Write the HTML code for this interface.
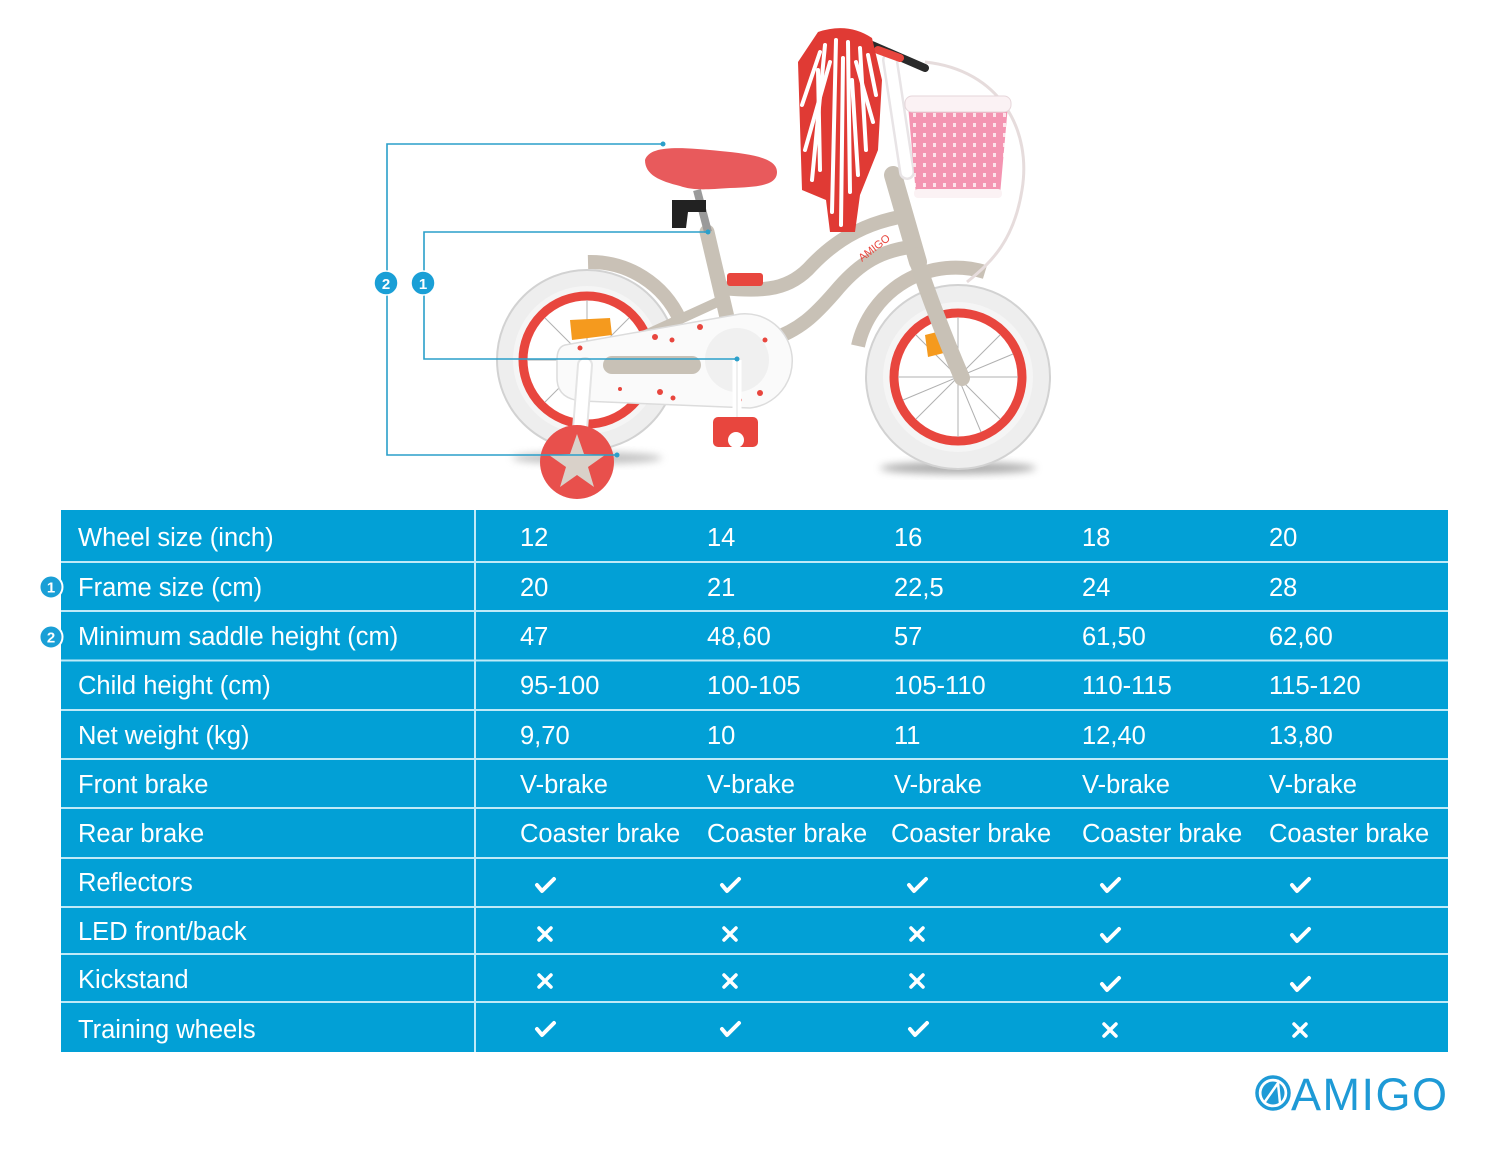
<!DOCTYPE html>
<html><head><meta charset="utf-8">
<style>
html,body{margin:0;padding:0;background:#fff;}
body{width:1500px;height:1150px;overflow:hidden;position:relative;}
svg{position:absolute;left:0;top:0;}
</style></head>
<body>
<svg width="1500" height="1150" viewBox="0 0 1500 1150" xmlns="http://www.w3.org/2000/svg">
<defs>
<filter id="bl" x="-50%" y="-50%" width="200%" height="200%"><feGaussianBlur stdDeviation="4"/></filter>
<pattern id="weave" width="10" height="10" patternUnits="userSpaceOnUse">
<rect width="10" height="10" fill="#f495b2"/>
<rect x="3" y="3" width="3" height="4" fill="#fde3ea"/>
</pattern>
</defs>

<!-- shadows -->
<ellipse cx="587" cy="458" rx="75" ry="6" fill="#9a9a9a" opacity="0.6" filter="url(#bl)"/>
<ellipse cx="958" cy="468" rx="78" ry="6" fill="#8a8a8a" opacity="0.7" filter="url(#bl)"/>

<!-- rear wheel -->
<circle cx="587" cy="360" r="90" fill="#eeeeee" stroke="#d2d2d2" stroke-width="2"/>
<circle cx="587" cy="360" r="74" fill="#f5f5f5"/>
<circle cx="587" cy="360" r="64" fill="#fff" stroke="#e8463e" stroke-width="9"/>
<g stroke="#b0b0b0" stroke-width="1">
<line x1="587" y1="300" x2="587" y2="420"/><line x1="527" y1="360" x2="647" y2="360"/>
<line x1="545" y1="318" x2="629" y2="402"/><line x1="629" y1="318" x2="545" y2="402"/>
</g>
<path d="M570,320 L610,318 L612,335 L572,340 Z" fill="#f59a1e"/>
<!-- rear fender -->
<path d="M588,262 A98,98 0 0 1 680,320" fill="none" stroke="#c9c1b6" stroke-width="14"/>

<!-- front wheel -->
<circle cx="958" cy="377" r="92" fill="#eeeeee" stroke="#d2d2d2" stroke-width="2"/>
<circle cx="958" cy="377" r="75" fill="#f5f5f5"/>
<circle cx="958" cy="377" r="64" fill="#fff" stroke="#e8463e" stroke-width="9"/>
<g stroke="#b0b0b0" stroke-width="1">
<line x1="958" y1="317" x2="958" y2="437"/><line x1="898" y1="377" x2="1018" y2="377"/>
<line x1="916" y1="335" x2="1000" y2="419"/><line x1="1000" y1="335" x2="916" y2="419"/>
<line x1="935" y1="322" x2="981" y2="432"/><line x1="903" y1="400" x2="1013" y2="354"/>
</g>
<path d="M925,335 L945,330 L948,352 L928,357 Z" fill="#f59a1e"/>
<!-- front fender -->
<path d="M858,346 A100,100 0 0 1 985,272" fill="none" stroke="#c9c1b6" stroke-width="14"/>

<!-- frame -->
<g fill="none" stroke="#c8c1b6" stroke-linecap="round">
<path d="M722,300 L595,358" stroke-width="10"/>
<path d="M707,232 L737,360" stroke-width="15"/>
<path d="M722,288 C765,292 790,290 812,265 C840,236 870,222 905,216" stroke-width="14"/>
<path d="M770,340 C800,330 815,315 835,292 C855,268 875,252 910,247" stroke-width="14"/>
<path d="M893,175 L918,262" stroke-width="18"/>
<path d="M915,255 Q935,315 962,378" stroke-width="16"/>
</g>
<rect x="727" y="273" width="36" height="13" rx="3" fill="#e8463e"/>
<text x="862" y="262" font-family="Liberation Sans, sans-serif" font-size="11" fill="#e8463e" transform="rotate(-38 862 262)">AMIGO</text>

<!-- stem & handlebar -->
<path d="M890,60 L907,172" stroke="#e8e4e6" stroke-width="16" stroke-linecap="round"/>
<path d="M890,60 L907,172" stroke="#ffffff" stroke-width="11" stroke-linecap="round"/>
<path d="M872,45 L925,68" stroke="#2a2a2a" stroke-width="8" stroke-linecap="round"/>
<path d="M878,50 L900,58" stroke="#e8463e" stroke-width="8" stroke-linecap="round"/>
<path d="M925,62 C1000,70 1032,130 1022,190 C1014,240 992,262 967,282" fill="none" stroke="#e6dcdc" stroke-width="3"/>

<!-- tassels -->
<path d="M818,32 Q848,22 872,38 L882,80 L878,150 L860,195 L855,232 L830,232 L826,200 L802,190 L798,62 Z" fill="#e03a34"/>
<g stroke="#ffffff" stroke-width="4" fill="none" stroke-linecap="round">
<path d="M825,45 L812,180"/><path d="M836,40 L832,212"/><path d="M848,42 L850,192"/><path d="M860,48 L866,150"/>
<path d="M830,62 L805,150"/><path d="M843,58 L841,225"/><path d="M856,62 L873,122"/><path d="M820,52 L802,105"/>
<path d="M868,55 L876,95"/><path d="M818,70 L820,170"/><path d="M852,80 L858,175"/>
</g>

<!-- basket -->
<path d="M908,105 L1008,105 L1000,195 L916,195 Z" fill="url(#weave)"/>
<rect x="905" y="96" width="106" height="16" rx="7" fill="#fbf2f4" stroke="#e6d6da" stroke-width="1"/>
<rect x="914" y="189" width="88" height="9" rx="4" fill="#fbf2f4"/>

<!-- saddle -->
<path d="M697,190 L708,232" stroke="#9a9a9a" stroke-width="8"/>
<path d="M672,200 L706,200 L706,212 L688,212 L686,228 L672,228 Z" fill="#222"/>
<path d="M645,160 C650,145 680,147 720,151 C752,154 777,158 777,172 C777,185 760,187 730,188 C702,190 692,190 680,186 C660,181 645,175 645,160 Z" fill="#e85a5c"/>

<!-- chain guard -->
<path d="M565,345 L740,314 A47,47 0 0 1 750,408 L582,401 Q557,399 557,378 L557,360 Q557,347 565,345 Z" fill="#fafafa" stroke="#dcdcdc" stroke-width="1.5"/>
<rect x="603" y="356" width="98" height="18" rx="9" fill="#c8c1b6"/>
<circle cx="737" cy="360" r="32" fill="#f0f0f0"/>
<g fill="#e8463e">
<circle cx="655" cy="337" r="3"/><circle cx="672" cy="340" r="2.5"/><circle cx="700" cy="327" r="3"/><circle cx="765" cy="340" r="2.5"/>
<circle cx="660" cy="392" r="3"/><circle cx="673" cy="398" r="2.5"/><circle cx="760" cy="393" r="3"/><circle cx="620" cy="389" r="2"/>
<circle cx="580" cy="348" r="2.5"/><circle cx="740" cy="400" r="2"/>
</g>
<!-- crank & pedal -->
<path d="M737,360 L737,422" stroke="#fff" stroke-width="9"/>
<path d="M737,360 L737,422" stroke="#e0e0e0" stroke-width="1" fill="none"/>
<rect x="713" y="417" width="45" height="30" rx="5" fill="#e8463e"/>
<circle cx="736" cy="440" r="8" fill="#fff"/>
<!-- training wheel -->
<path d="M585,365 L578,455" stroke="#e4e4e4" stroke-width="16" stroke-linecap="round"/>
<path d="M585,365 L578,455" stroke="#ffffff" stroke-width="12" stroke-linecap="round"/>
<circle cx="577" cy="462" r="37" fill="#e8504c"/>
<polygon points="577,434 584,454 605,455 588,467 594,487 577,475 560,487 566,467 549,455 570,454" fill="#d9d1c9"/>

<!-- dimension lines -->
<g fill="none" stroke="#2a9fca" stroke-width="1.6">
<path d="M663,144 H387 V455 H617"/>
<path d="M708,232 H424 V359 H737"/>
</g>
<g fill="#2a9fca">
<circle cx="663" cy="144" r="2.5"/><circle cx="708" cy="232" r="2.5"/><circle cx="737" cy="359" r="2.5"/><circle cx="617" cy="455" r="2.5"/>
</g>
<circle cx="386" cy="283" r="12" fill="#1a9fd6" stroke="#fff" stroke-width="1.5"/>
<circle cx="423" cy="283" r="12" fill="#1a9fd6" stroke="#fff" stroke-width="1.5"/>
<g font-family="Liberation Sans, sans-serif" font-weight="bold" font-size="15" fill="#fff" text-anchor="middle">
<text x="386" y="289">2</text><text x="423" y="289">1</text>
</g>

<!-- table -->
<rect x="61" y="510" width="1387" height="542" fill="#02a0d6"/>
<g stroke="#bfeaf8" stroke-width="2">
<line x1="61" y1="562" x2="1448" y2="562"/>
<line x1="61" y1="611" x2="1448" y2="611"/>
<line x1="61" y1="660.5" x2="1448" y2="660.5"/>
<line x1="61" y1="710" x2="1448" y2="710"/>
<line x1="61" y1="759" x2="1448" y2="759"/>
<line x1="61" y1="808" x2="1448" y2="808"/>
<line x1="61" y1="858" x2="1448" y2="858"/>
<line x1="61" y1="907" x2="1448" y2="907"/>
<line x1="61" y1="954" x2="1448" y2="954"/>
<line x1="61" y1="1002" x2="1448" y2="1002"/>
<line x1="475" y1="510" x2="475" y2="1052"/>
</g>

<!-- left markers -->
<circle cx="51" cy="587" r="11.5" fill="#1a9fd6" stroke="#fff" stroke-width="2"/>
<circle cx="51" cy="637" r="11.5" fill="#1a9fd6" stroke="#fff" stroke-width="2"/>
<g font-family="Liberation Sans, sans-serif" font-weight="bold" font-size="15" fill="#fff" text-anchor="middle">
<text x="51" y="592.5">1</text><text x="51" y="642.5">2</text>
</g>

<g font-family="Liberation Sans, sans-serif" font-size="25.5" fill="#ffffff">
<text x="78" y="546">Wheel size (inch)</text>
<text x="520" y="546">12</text><text x="707" y="546">14</text><text x="894" y="546">16</text><text x="1082" y="546">18</text><text x="1269" y="546">20</text>

<text x="78" y="596">Frame size (cm)</text>
<text x="520" y="596">20</text><text x="707" y="596">21</text><text x="894" y="596">22,5</text><text x="1082" y="596">24</text><text x="1269" y="596">28</text>

<text x="78" y="645">Minimum saddle height (cm)</text>
<text x="520" y="645">47</text><text x="707" y="645">48,60</text><text x="894" y="645">57</text><text x="1082" y="645">61,50</text><text x="1269" y="645">62,60</text>

<text x="78" y="694">Child height (cm)</text>
<text x="520" y="694">95-100</text><text x="707" y="694">100-105</text><text x="894" y="694">105-110</text><text x="1082" y="694">110-115</text><text x="1269" y="694">115-120</text>

<text x="78" y="744">Net weight (kg)</text>
<text x="520" y="744">9,70</text><text x="707" y="744">10</text><text x="894" y="744">11</text><text x="1082" y="744">12,40</text><text x="1269" y="744">13,80</text>

<text x="78" y="793">Front brake</text>
<text x="520" y="793">V-brake</text><text x="707" y="793">V-brake</text><text x="894" y="793">V-brake</text><text x="1082" y="793">V-brake</text><text x="1269" y="793">V-brake</text>

<text x="78" y="842">Rear brake</text>
<text x="520" y="842">Coaster brake</text><text x="707" y="842">Coaster brake</text><text x="891" y="842">Coaster brake</text><text x="1082" y="842">Coaster brake</text><text x="1269" y="842">Coaster brake</text>

<text x="78" y="891">Reflectors</text>
<text x="78" y="940">LED front/back</text>
<text x="78" y="988">Kickstand</text>
<text x="78" y="1038">Training wheels</text>
</g>

<!-- icons -->
<defs>
<g id="ck"><polyline points="-8,0 -3,6 9,-6" fill="none" stroke="#fff" stroke-width="4" stroke-linecap="round" stroke-linejoin="round"/></g>
<g id="xx"><path d="M-6,-6 L6,6 M6,-6 L-6,6" stroke="#fff" stroke-width="3.5" stroke-linecap="round"/></g>
</defs>
<use href="#ck" x="545" y="885"/><use href="#ck" x="730" y="885"/><use href="#ck" x="917" y="885"/><use href="#ck" x="1110" y="885"/><use href="#ck" x="1300" y="885"/>
<use href="#xx" x="545" y="934"/><use href="#xx" x="730" y="934"/><use href="#xx" x="917" y="934"/><use href="#ck" x="1110" y="935"/><use href="#ck" x="1300" y="935"/>
<use href="#xx" x="545" y="981"/><use href="#xx" x="730" y="981"/><use href="#xx" x="917" y="981"/><use href="#ck" x="1110" y="984"/><use href="#ck" x="1300" y="984"/>
<use href="#ck" x="545" y="1029"/><use href="#ck" x="730" y="1029"/><use href="#ck" x="918" y="1029"/><use href="#xx" x="1110" y="1030"/><use href="#xx" x="1300" y="1030"/>

<!-- logo -->
<circle cx="1273" cy="1093" r="16" fill="none" stroke="#1e9ad6" stroke-width="3.5"/>
<circle cx="1273" cy="1093" r="11.5" fill="#1e9ad6"/>
<path d="M1264,1103 L1278,1083 L1280,1103" fill="none" stroke="#fff" stroke-width="2.5"/>
<text x="1291" y="1110" font-family="Liberation Sans, sans-serif" font-size="45" fill="#1e9ad6" letter-spacing="1.5">AMIGO</text>
</svg>
</body></html>
